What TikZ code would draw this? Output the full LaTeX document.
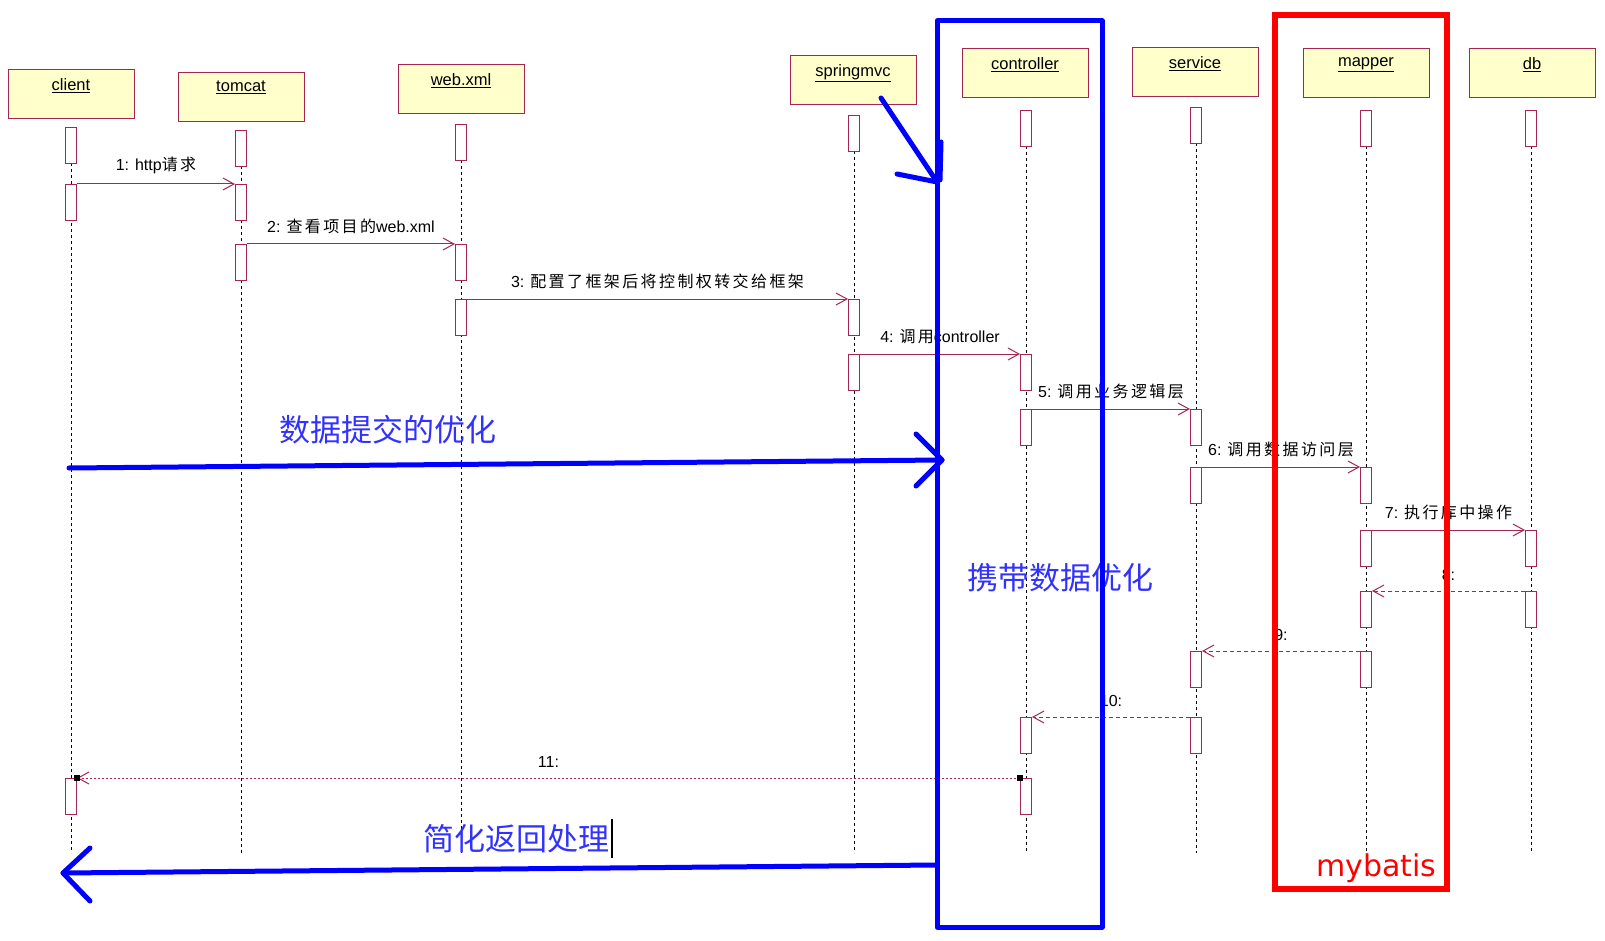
\documentclass[tikz,border=0pt]{standalone}
\usepackage{fontspec}
\setmainfont{Liberation Sans}
\newfontfamily\cjk{Noto Sans CJK SC}
\newfontfamily\lblcjk[LetterSpace=15]{Noto Sans CJK SC}
\newcommand\zh[1]{{\lblcjk #1}}
\newfontfamily\dvs{DejaVu Sans}
\usetikzlibrary{arrows.meta}
\definecolor{umlred}{RGB}{165,38,80}
\definecolor{hdrfill}{RGB}{255,255,204}
\definecolor{penblue}{RGB}{0,0,255}
\definecolor{annblue}{RGB}{50,50,255}
\begin{document}
\begin{tikzpicture}[x=1pt,y=-1pt,
  hdr/.style={draw=umlred, fill=hdrfill, line width=1pt, minimum width=126pt, minimum height=49pt, anchor=north, inner sep=0pt},
  hdrlbl/.style={font=\fontsize{16.5}{16.5}\selectfont, anchor=north, inner sep=0pt},
  act/.style={draw=umlred, fill=white, line width=1pt, minimum width=11pt, minimum height=36pt, anchor=north, inner sep=0pt},
  life/.style={dash pattern=on 3pt off 3pt, line width=0.8pt},
  msg/.style={draw=umlred, line width=1pt, -{Straight Barb[length=11pt,width=12pt,line width=1pt]}},
  ret/.style={msg, dash pattern=on 4pt off 3pt},
  retdot/.style={msg, dash pattern=on 2pt off 2pt},
  mlbl/.style={font=\fontsize{16}{16}\selectfont, inner sep=0pt, above=10pt},
  sq/.style={fill=black, minimum size=6pt, inner sep=0pt},
  pen/.style={draw=penblue, line width=5pt, line cap=round, line join=round},
  ann/.style={text=annblue, font=\cjk\fontsize{31}{31}\selectfont, inner sep=0pt}
]
\useasboundingbox (0,0) rectangle (1605,941);
\fill[white] (0,0) rectangle (1605,941);

% lifelines
\foreach \x/\yt in {71/127,241/130,461/124,854/115,1026/110,1196/107,1366/110,1531/110}
  \draw[life] (\x,\yt) -- (\x,853);

% headers
\node[hdr] (hclient) at (71,69) {};
\node[hdr] (htomcat) at (241,72) {};
\node[hdr] (hweb) at (461,64) {};
\node[hdr] (hspring) at (853,55) {};
\node[hdr] (hctrl) at (1025,48) {};
\node[hdr] (hserv) at (1195,47) {};
\node[hdr] (hmap) at (1366,48) {};
\node[hdr] (hdb) at (1532,48) {};
\node[hdrlbl] (lclient) at ([yshift=-9pt]hclient.north) {\underline{client}};
\node[hdrlbl] (ltomcat) at ([yshift=-9pt]htomcat.north) {\underline{tomcat}};
\node[hdrlbl] (lweb) at ([yshift=-9pt]hweb.north) {\underline{web.xml}};
\node[hdrlbl] (lspring) at ([yshift=-9pt]hspring.north) {\underline{springmvc}};
\node[hdrlbl] (lctrl) at ([yshift=-9pt]hctrl.north) {\underline{controller}};
\node[hdrlbl] (lserv) at ([yshift=-9pt]hserv.north) {\underline{service}};
\node[hdrlbl] (lmap) at ([yshift=-9pt]hmap.north) {\underline{mapper}};
\node[hdrlbl] (ldb) at ([yshift=-9pt]hdb.north) {\underline{db}};

% activations
\node[act] (ca) at (71,127) {};
\node[act] (cb) at (71,184) {};
\node[act] (cc) at (71,778) {};
\node[act] (ta) at (241,130) {};
\node[act] (tb) at (241,184) {};
\node[act] (tc) at (241,244) {};
\node[act] (wa) at (461,124) {};
\node[act] (wb) at (461,244) {};
\node[act] (wc) at (461,299) {};
\node[act] (sa) at (854,115) {};
\node[act] (sb) at (854,299) {};
\node[act] (sc) at (854,354) {};
\node[act] (ka) at (1026,110) {};
\node[act] (kb) at (1026,354) {};
\node[act] (kc) at (1026,409) {};
\node[act] (kd) at (1026,717) {};
\node[act] (ke) at (1026,778) {};
\node[act] (va) at (1196,107) {};
\node[act] (vb) at (1196,409) {};
\node[act] (vc) at (1196,467) {};
\node[act] (vd) at (1196,651) {};
\node[act] (ve) at (1196,717) {};
\node[act] (ma) at (1366,110) {};
\node[act] (mb) at (1366,467) {};
\node[act] (mc) at (1366,530) {};
\node[act] (md) at (1366,591) {};
\node[act] (me) at (1366,651) {};
\node[act] (da) at (1531,110) {};
\node[act] (db) at (1531,530) {};
\node[act] (dc) at (1531,591) {};

% messages
\draw[msg] (cb.north east) -- node[mlbl] (m1) {1: http\zh{请求}} (tb.north west);
\draw[msg] (tc.north east) -- node[mlbl] (m2) {2: \zh{查看项目的}web.xml} (wb.north west);
\draw[msg] (wc.north east) -- node[mlbl] (m3) {3: \zh{配置了框架后将控制权转交给框架}} (sb.north west);
\draw[msg] (sc.north east) -- node[mlbl] (m4) {4: \zh{调用}controller} (kb.north west);
\draw[msg] (kc.north east) -- node[mlbl] (m5) {5: \zh{调用业务逻辑层}} (vb.north west);
\draw[msg] (vc.north east) -- node[mlbl] (m6) {6: \zh{调用数据访问层}} (mb.north west);
\draw[msg] (mc.north east) -- node[mlbl] (m7) {7: \zh{执行库中操作}} (db.north west);
\draw[ret] (dc.north west) -- node[mlbl] (m8) {8:} (md.north east);
\draw[ret] (me.north west) -- node[mlbl] (m9) {9:} (vd.north east);
\draw[ret] (ve.north west) -- node[mlbl] (m10) {10:} (kd.north east);
\draw[retdot] (ke.north west) -- node[mlbl] (m11) {11:} (cc.north east);
\node[sq] (sq1) at (ke.north west) {};
\node[sq] (sq2) at (cc.north east) {};

% annotations
\node[ann] (t1) at (388,430) {数据提交的优化};
\node[ann] (t2) at (1060,578) {携带数据优化};
\node[ann] (t3) at (516,839) {简化返回处理};
\draw[line width=1.5pt] (612,819) -- (612,858);

\draw[pen, line cap=butt] (937,21) rectangle (1102,927);
\draw[draw=red, line width=6pt] (1275,15) rectangle (1447,889);
\node[text=red, font=\dvs\fontsize{30}{30}\selectfont, anchor=base west, inner sep=0pt] (mybatis) at (1316,876) {mybatis};

\coordinate (a1s) at (69,468);
\coordinate (a1e) at (942,460);
\draw[pen] (a1s) -- (a1e);
\draw[pen] (916,434) -- (a1e) -- (916,486);
\coordinate (a2s) at (937,865);
\coordinate (a2e) at (63,873);
\draw[pen] (a2s) -- (a2e);
\draw[pen] (90,848) -- (a2e) -- (90,901);
\coordinate (a3s) at (881,98);
\coordinate (a3e) at (937,182);
\draw[pen] (a3s) -- (a3e);
\draw[pen] (897,174) -- (a3e);
\draw[pen] (941,142) -- (940,180);
\end{tikzpicture}
\end{document}
